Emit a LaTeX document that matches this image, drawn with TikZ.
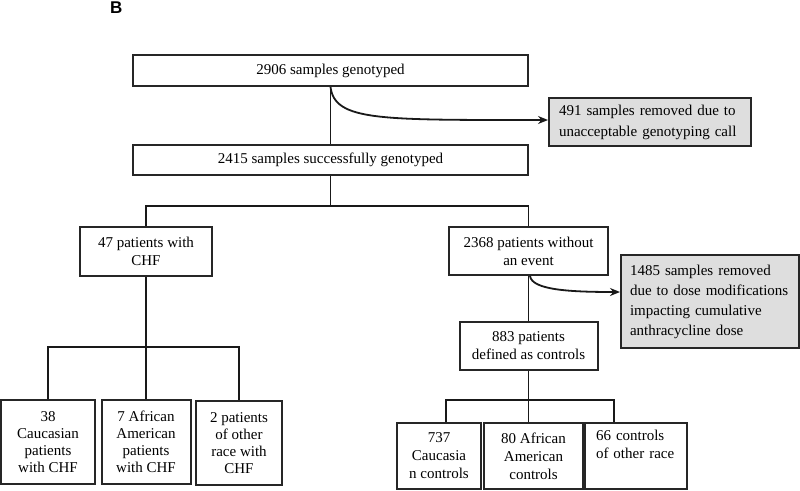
\documentclass[tikz,border=0pt]{standalone}
\usepackage{fontspec}
\setmainfont{Liberation Serif}
\newfontfamily\labelfont{Liberation Sans}
\usetikzlibrary{arrows.meta}
\definecolor{graybox}{RGB}{222,222,222}
\begin{document}
\begin{tikzpicture}[x=1pt,y=-1pt,
  box/.style={draw=black!85, line width=2pt, rectangle, inner sep=0pt, align=center, font=\fontsize{15}{18}\selectfont},
  greybox/.style={box, fill=graybox, align=left},
  link/.style={line width=1.8pt, draw=black!90},
  arr/.style={line width=1.8pt, draw=black!90, -{Stealth[length=10pt,width=8pt]}}]
\useasboundingbox (0,0) rectangle (800,490);
\node[font=\labelfont\bfseries\fontsize{17}{20}\selectfont, anchor=base west, inner sep=0pt] (lbl) at (110,13) {B};
\node[box, minimum width=395pt, minimum height=31pt] (b1) at (330.5,70.5) {2906 samples genotyped};
\node[box, minimum width=395pt, minimum height=30pt] (b2) at (330.5,160) {2415 samples successfully genotyped};
\node[greybox, minimum width=202pt, minimum height=48pt, text width=182pt, inner xsep=10pt, font=\fontsize{15}{21}\selectfont] (g1) at (650,122) {491 samples removed due to\\unacceptable genotyping call};
\node[box, minimum width=132pt, minimum height=49pt] (n47) at (146,251.5) {47 patients with\\CHF};
\node[box, minimum width=159pt, minimum height=48pt] (n2368) at (528.5,251) {2368 patients without\\an event};
\node[greybox, minimum width=178pt, minimum height=93pt, text width=160pt, inner xsep=9pt, font=\fontsize{15}{20}\selectfont] (g2) at (710,301.5) {1485 samples removed\\due to dose modifications\\impacting cumulative\\anthracycline dose};
\node[box, minimum width=138pt, minimum height=48pt] (n883) at (528.5,346) {883 patients\\defined as controls};
\node[box, minimum width=94pt, minimum height=84pt, font=\fontsize{15}{17}\selectfont] (a1) at (48,442) {38\\Caucasian\\patients\\with CHF};
\node[box, minimum width=89pt, minimum height=84pt, font=\fontsize{15}{17}\selectfont] (a2) at (146,442) {7 African\\American\\patients\\with CHF};
\node[box, minimum width=86pt, minimum height=84pt, font=\fontsize{15}{17}\selectfont] (a3) at (239,443) {2 patients\\of other\\race with\\CHF};
\node[box, minimum width=84pt, minimum height=66pt] (d1) at (439,456) {737\\Caucasia\\n controls};
\node[box, minimum width=99pt, minimum height=66pt] (d2) at (533.5,456) {80 African\\American\\controls};
\node[box, minimum width=102pt, minimum height=66pt, align=left, text width=80pt, inner xsep=11pt] (d3) at (636,456) {66 controls\\of other race\\\strut};
\coordinate (j1) at (330.5,206);
\coordinate (j2) at (146,347);
\coordinate (k1) at (446,400);
\coordinate (j3) at (528.5,400);
\coordinate (k3) at (614,400);
\draw[link] (b1.south) -- (b2.north);
\draw[link] (b2.south) -- (j1);
\draw[link] (n47.north) |- (j1) -| (n2368.north);
\draw[arr] (b1.south) .. controls +(4.5,34) and +(-169,0) .. ([yshift=2pt]g1.west);
\draw[link] (n2368.south) -- (n883.north);
\draw[arr] ([xshift=1.5pt]n2368.south) .. controls +(2,14) and +(-50,0) .. ([yshift=9.5pt]g2.west);
\draw[link] (n47.south) -- (j2) -- (a2.north);
\draw[link] (a1.north) |- (j2) -| (a3.north);
\draw[link] (n883.south) -- (j3) -- (j3 |- d2.north);
\draw[link] (k1 |- d1.north) -- (k1) -- (k3) -- (k3 |- d3.north);
\end{tikzpicture}
\end{document}
